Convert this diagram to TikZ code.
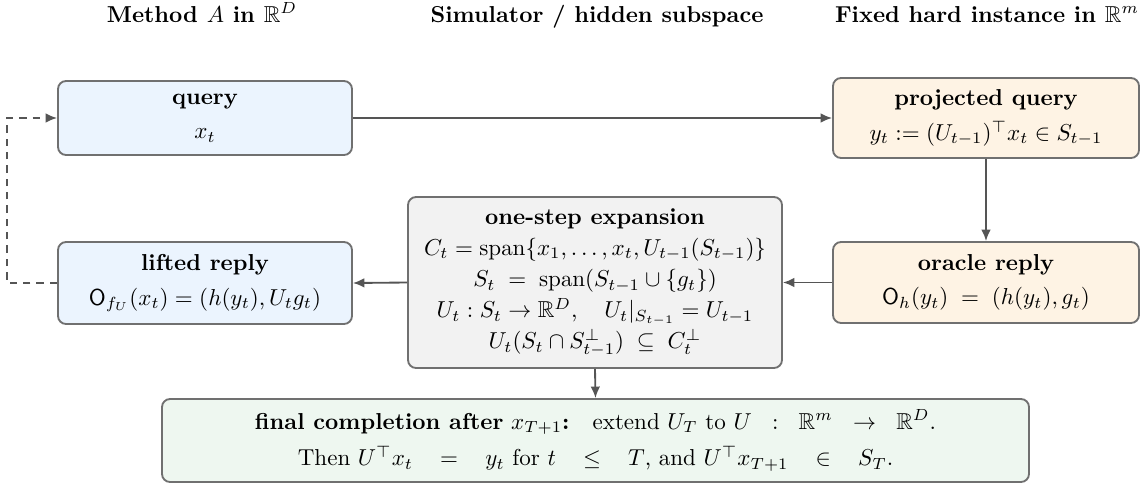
\documentclass[tikz,border=0pt]{standalone}
\usepackage{amsmath,amssymb}
\usetikzlibrary{arrows.meta}
\definecolor{bluefill}{HTML}{EBF4FE}
\definecolor{orangefill}{HTML}{FEF3E4}
\definecolor{grayfill}{HTML}{F2F2F2}
\definecolor{greenfill}{HTML}{EEF7F0}
\definecolor{bordergray}{HTML}{707070}
\definecolor{arrowgray}{HTML}{555555}
\newcommand{\wsp}{\hspace{0.9em}}
\newcommand{\msp}{\hspace{0.6em}}
\begin{document}
\begin{tikzpicture}[x=0.434pt,y=-0.434pt,
  box/.style={draw=bordergray, line width=0.8pt, rounded corners=3.5pt, align=center, inner sep=0pt},
  sz/.style 2 args={minimum width=#1*0.434pt, minimum height=#2*0.434pt},
  title/.style={anchor=base, font=\bfseries},
  arr/.style={draw=arrowgray, line width=0.8pt, -{Latex[length=5pt,width=4.2pt]}},
  fb/.style={arr, dash pattern=on 3.2pt off 2.6pt}
]
\useasboundingbox (0,0) rectangle (1146,486);

\node[title] (t1) at (202,22) {Method $A$ in $\mathbb{R}^D$};
\node[title] (t2) at (597,22) {Simulator / hidden subspace};
\node[title] (t3) at (987,22) {Fixed hard instance in $\mathbb{R}^m$};

\node[box, sz={294}{74}, fill=bluefill] (query) at (205,118)
  {\textbf{query}\\[3pt]$x_t$};
\node[box, sz={306}{80}, fill=orangefill] (pq) at (986,118)
  {\textbf{projected query}\\[3pt]$y_t \mathrel{:=} (U_{t-1})^{\top} x_t \in S_{t-1}$};
\node[box, sz={294}{82}, fill=bluefill] (lifted) at (205,283)
  {\textbf{lifted reply}\\[3pt]$\mathsf{O}_{f_U}(x_t) = (h(y_t), U_t g_t)$};
\node[box, sz={306}{81}, fill=orangefill] (oracle) at (986,282.5)
  {\textbf{oracle reply}\\[3pt]$\mathsf{O}_h(y_t) \;=\; (h(y_t), g_t)$};
\node[box, sz={374}{171}, fill=grayfill] (exp) at (595,282.5)
  {\textbf{one-step expansion}\\[1.5pt]
   $C_t = \operatorname{span}\{x_1,\dots,x_t,U_{t-1}(S_{t-1})\}$\\[1.5pt]
   $S_t \;=\; \operatorname{span}(S_{t-1}\cup\{g_t\})$\\[1.5pt]
   $U_t : S_t \to \mathbb{R}^D, \quad U_t|_{S_{t-1}} = U_{t-1}$\\[1.5pt]
   $U_t(S_t \cap S_{t-1}^{\perp}) \;\subseteq\; C_t^{\perp}$};
\node[box, sz={867}{83}, fill=greenfill] (final) at (595.5,440.5)
  {\textbf{final completion after} $x_{T+1}$\textbf{:}\quad extend $U_T$ to $U \msp:\msp \mathbb{R}^m \msp\to\msp \mathbb{R}^D$.\\[4pt]
   Then $U^{\top} x_t \wsp=\wsp y_t$ for $t \wsp\le\wsp T$, and $U^{\top} x_{T+1} \wsp\in\wsp S_T$.};

\draw[arr] (query.east) -- (pq.west);
\draw[arr] (pq.south) -- (oracle.north);
\draw[arr] (oracle.west) -- (exp.east);
\draw[arr] (exp.west) -- (lifted.east);
\draw[fb] (lifted.west) -- ([xshift=-50*0.434pt]lifted.west) |- (query.west);
\draw[arr] (exp.south) -- (final.north);
\end{tikzpicture}
\end{document}
